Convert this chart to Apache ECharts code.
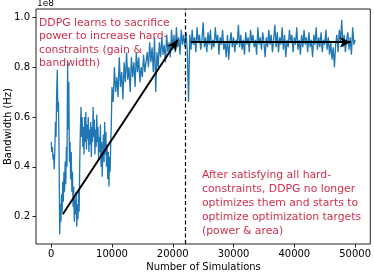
<!DOCTYPE html>
<html><head><meta charset="utf-8">
<script src="https://cdn.jsdelivr.net/npm/echarts@6/dist/echarts.min.js"></script>
<style>html,body{margin:0;padding:0;background:#fff}#c{width:374px;height:274px}</style>
</head><body><div id="c"></div>
<script>
// Early phase: simulations 0..9900, one sample every 100
const earlyStart = 0;
const earlyStep = 100;
const bandwidthEarly = [
0.50,0.46,0.48,0.43,0.45,0.39,0.47,0.58,0.52,0.70,
0.79,0.62,0.66,0.45,0.13,0.25,0.18,0.29,0.22,0.34,
0.26,0.38,0.30,0.42,0.33,0.48,0.40,0.82,0.55,0.74,
0.42,0.50,0.35,0.46,0.30,0.38,0.24,0.32,0.18,0.27,
0.21,0.30,0.16,0.25,0.19,0.30,0.22,0.42,0.55,0.64,
0.52,0.60,0.48,0.56,0.45,0.60,0.50,0.62,0.47,0.57,
0.51,0.60,0.46,0.55,0.49,0.58,0.44,0.56,0.50,0.64,
0.52,0.59,0.45,0.55,0.48,0.61,0.50,0.56,0.43,0.52,
0.46,0.57,0.40,0.50,0.36,0.47,0.53,0.42,0.58,0.45,
0.54,0.40,0.49,0.35,0.46,0.32,0.44,0.38,0.50,0.58
];
// Later phase: simulations 10000..50000, one sample every 200
const lateStart = 10000;
const lateStep = 200;
const bandwidthLate = [
0.72,0.66,0.80,0.70,0.76,0.68,0.84,0.72,0.78,0.67,
0.82,0.74,0.86,0.75,0.80,0.70,0.84,0.76,0.82,0.72,
0.86,0.78,0.84,0.74,0.80,0.76,0.85,0.78,0.82,0.86,
0.80,0.90,0.82,0.88,0.78,0.92,0.70,0.86,0.80,0.90,
0.84,0.92,0.85,0.89,0.82,0.93,0.86,0.90,0.84,0.95,
0.87,0.93,0.86,0.96,0.88,0.92,0.85,0.95,0.89,0.93,
0.88,0.94,0.86,0.66,0.93,0.87,0.95,0.89,0.92,0.86,
0.96,0.90,0.93,0.87,0.91,0.98,0.88,0.92,0.86,0.94,
0.89,0.95,0.87,0.91,0.88,0.96,0.90,0.93,0.85,0.92,
0.89,0.95,0.87,0.90,0.84,0.93,0.83,0.90,0.94,0.88,
0.92,0.86,0.91,0.89,0.97,0.88,0.93,0.87,0.91,0.85,
0.94,0.89,0.92,0.86,0.95,0.90,0.93,0.88,0.91,0.85,
0.96,0.89,0.92,0.87,0.94,0.90,0.84,0.92,0.88,0.95,
0.89,0.93,0.86,0.91,0.97,0.88,0.94,0.86,0.92,0.89,
0.96,0.87,0.93,0.84,0.91,0.88,0.95,0.90,0.93,0.86,
0.92,0.89,0.96,0.87,0.91,0.85,0.93,0.88,0.95,0.89,
0.92,0.86,0.94,0.88,0.91,0.84,0.93,0.89,0.96,0.87,
0.92,0.88,0.94,0.86,0.91,0.89,0.95,0.87,0.92,0.85,
0.90,0.83,0.88,0.80,0.89,0.93,0.86,0.95,0.90,0.99,
0.88,0.93,0.86,0.91,0.94,0.87,0.92,0.85,0.96,0.89,
0.91
];
const xTicks = [0, 10000, 20000, 30000, 40000, 50000];
const yTicks = [0.2, 0.4, 0.6, 0.8, 1.0];
const dividerSim = 22000;
// arrow endpoints [sim, bandwidth]
const arrow1 = [[1900, 0.21], [20800, 0.91]];
const arrow2 = [[23000, 0.90], [49300, 0.90]];
const note1 = "DDPG learns to sacrifice\npower to increase hard-\nconstraints (gain &\nbandwidth)";
const note2 = "After satisfying all hard-\nconstraints, DDPG no longer\noptimizes them and starts to\noptimize optimization targets\n(power & area)";

const seriesData = bandwidthEarly.map((v, i) => [earlyStart + i * earlyStep, v])
  .concat(bandwidthLate.map((v, i) => [lateStart + i * lateStep, v]));
const FONT = 'DejaVu Sans';
const NOTE_COLOR = '#cf2f4c';

const chart = echarts.init(document.getElementById('c'), null, {renderer: 'canvas'});
chart.setOption({
  animation: false,
  grid: {left: 36, right: 3, top: 9, bottom: 30, show: true, borderColor: '#222', borderWidth: 1, backgroundColor: 'transparent'},
  xAxis: {
    type: 'value', min: -2500, max: 52500,
    splitLine: {show: false},
    axisLine: {show: false, onZero: false},
    axisTick: {show: true, inside: false, length: 3.5, lineStyle: {color: '#222'}, customValues: xTicks},
    axisLabel: {customValues: xTicks, color: '#000', fontFamily: FONT, fontSize: 10, margin: 5,
      formatter: v => String(v)}
  },
  yAxis: {
    type: 'value', min: 0.0905, max: 1.0333,
    splitLine: {show: false},
    axisLine: {show: false, onZero: false},
    axisTick: {show: true, inside: false, length: 3.5, lineStyle: {color: '#222'}, customValues: yTicks},
    axisLabel: {customValues: yTicks, color: '#000', fontFamily: FONT, fontSize: 10, margin: 6,
      formatter: v => v.toFixed(1)}
  },
  graphic: [
    {type: 'text', z: 0, left: 39, top: 16, style: {text: note1, fill: NOTE_COLOR, font: '10.8px "DejaVu Sans"', lineHeight: 13.5}},
    {type: 'text', z: 0, left: 202, top: 168, style: {text: note2, fill: NOTE_COLOR, font: '10.8px "DejaVu Sans"', lineHeight: 14}},
    {type: 'text', x: 37, y: 4, style: {text: '1e8', fill: '#000', font: '9px "DejaVu Sans"', textAlign: 'left', textVerticalAlign: 'middle'}},
    {type: 'text', x: 203.5, y: 267, style: {text: 'Number of Simulations', fill: '#000', font: '10px "DejaVu Sans"', textAlign: 'center', textVerticalAlign: 'middle'}},
    {type: 'text', x: 8, y: 126.5, rotation: Math.PI / 2, style: {text: 'Bandwidth (Hz)', fill: '#000', font: '10px "DejaVu Sans"', textAlign: 'center', textVerticalAlign: 'middle'}}
  ],
  series: [{
    type: 'line', z: 3, data: seriesData, showSymbol: false, symbol: 'none',
    lineStyle: {color: '#1f77b4', width: 1.3},
    markLine: {
      silent: true, animation: false, label: {show: false},
      data: [
        [{coord: arrow1[0], symbol: 'none'}, {coord: arrow1[1], symbol: 'arrow', symbolSize: [8, 11]}],
        [{coord: arrow2[0], symbol: 'none'}, {coord: arrow2[1], symbol: 'arrow', symbolSize: [8, 11]}],
        [{xAxis: dividerSim, yAxis: 0.0905, symbol: 'none', lineStyle: {type: [4, 2.5], width: 1.2, color: '#000'}},
         {xAxis: dividerSim, yAxis: 1.0333, symbol: 'none'}]
      ],
      lineStyle: {color: '#000', width: 2, type: 'solid'}
    }
  }]
});
</script></body></html>
